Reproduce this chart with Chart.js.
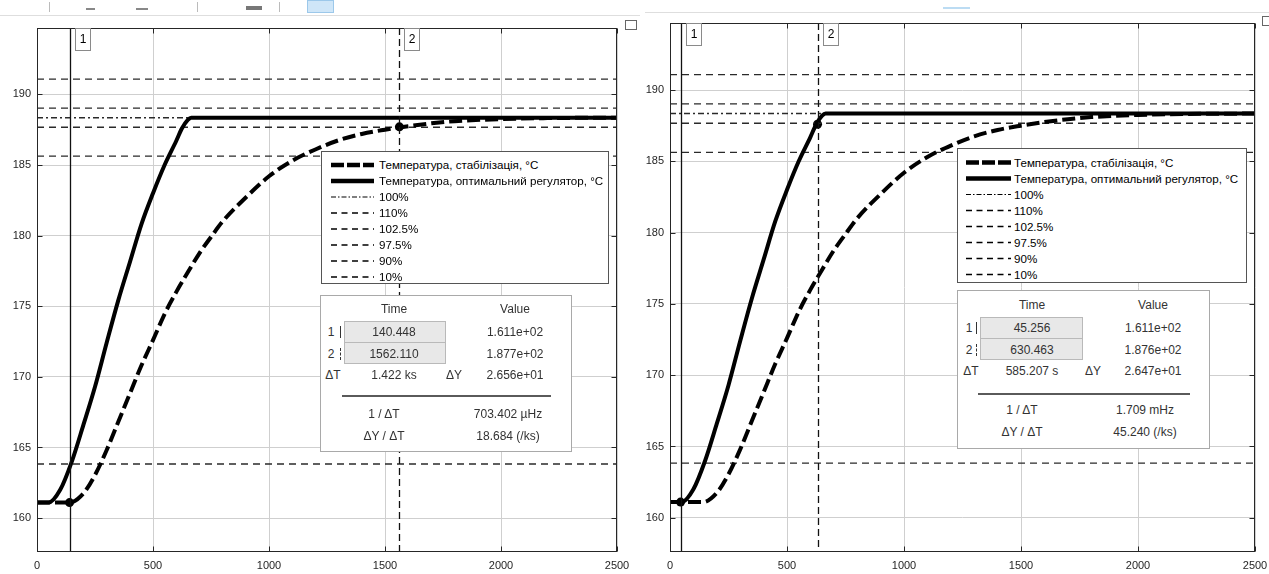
<!DOCTYPE html>
<html><head><meta charset="utf-8">
<script src="https://cdn.jsdelivr.net/npm/chart.js@4.4.1/dist/chart.umd.min.js"></script>
<style>
html,body{margin:0;padding:0;background:#fff;}
body{width:1269px;height:574px;overflow:hidden;position:relative;font-family:'Liberation Sans',Arial,sans-serif;}
.pane{position:absolute;top:0;}
.legend{position:absolute;background:#fff;border:1px solid #555;box-sizing:border-box;}
.legend .row{position:absolute;height:16px;font-size:11.6px;line-height:16px;color:#000;white-space:nowrap;}
.legend svg{position:absolute;left:0;top:0;}
.meas{position:absolute;background:#fff;border:1px solid #a9a9a9;box-sizing:border-box;color:#333;font-size:12px;}
.meas .t{position:absolute;transform:translate(-50%,-50%);white-space:nowrap;line-height:14px;}
.meas .fld{position:absolute;background:#e8e8e8;border:1px solid #b9b9b9;box-sizing:border-box;}
.meas .sep{position:absolute;height:0;border-top:2px solid #5a5a5a;}
.deco{position:absolute;}
</style></head>
<body>
<div class="deco" style="left:0;top:15px;width:640px;height:1px;background:#dedede"></div>
<div class="deco" style="left:645px;top:12px;width:624px;height:1px;background:#dedede"></div>
<div class="deco" style="left:307px;top:0;width:27px;height:13px;background:#cfe6f8;border:1px solid #9cc8ea;box-sizing:border-box"></div>
<div class="deco" style="left:246px;top:6px;width:16px;height:4px;background:#777"></div>
<div class="deco" style="left:49px;top:2px;width:1px;height:10px;background:#bbb"></div>
<div class="deco" style="left:197px;top:2px;width:1px;height:10px;background:#bbb"></div>
<div class="deco" style="left:279px;top:2px;width:1px;height:10px;background:#bbb"></div>
<div class="deco" style="left:86px;top:8px;width:9px;height:2px;background:#888"></div>
<div class="deco" style="left:136px;top:8px;width:12px;height:2px;background:#888"></div>
<div class="deco" style="left:943px;top:7px;width:27px;height:2px;background:#bcdcf3"></div>
<div class="deco" style="left:625px;top:20px;width:12px;height:10px;border:1px solid #666;box-sizing:border-box"></div>
<div class="deco" style="left:1262px;top:16px;width:12px;height:10px;border:1px solid #666;box-sizing:border-box"></div>

<div class="pane" style="left:0;width:640px;height:574px"><canvas id="c1" width="640" height="574"></canvas></div>
<div class="pane" style="left:640px;width:640px;height:574px"><canvas id="c2" width="640" height="574"></canvas></div>

<script>
// ---------------- data ----------------
const xTicks = [0, 500, 1000, 1500, 2000, 2500];
const yTicks = [160, 165, 170, 175, 180, 185, 190];
const seriesLabels = ['Температура, стабілізація, °C', 'Температура, оптимальний регулятор, °C'];
const timeStab = [0, 140, 200, 250, 300, 350, 400, 450, 500, 550, 600, 650, 700, 750, 800, 900, 1000, 1100, 1200, 1300, 1400, 1500, 1600, 1700, 1800, 2000, 2200, 2500];
const tempStab = [161.1, 161.1, 161.75, 163.05, 164.8, 166.8, 168.8, 170.8, 172.6, 174.45, 176.0, 177.4, 178.75, 179.9, 181.0, 182.7, 184.2, 185.3, 186.1, 186.75, 187.2, 187.5, 187.75, 187.95, 188.1, 188.25, 188.32, 188.35];
const timeOpt = [0, 50, 100, 150, 200, 250, 300, 350, 400, 450, 500, 550, 600, 625, 650, 665, 2500];
const tempOpt = [161.1, 161.1, 162.0, 164.0, 166.6, 169.3, 172.4, 175.4, 178.1, 180.8, 183.0, 185.0, 186.7, 187.6, 188.2, 188.35, 188.35];
const levelLabels = ['100%', '110%', '102.5%', '97.5%', '90%', '10%'];
const levelValues = [188.35, 191.08, 189.03, 187.67, 185.63, 163.83];
const cursorTimesA = [140.448, 1562.110];
const cursorValuesA = [161.1, 187.7];
const cursorTimesB = [45.256, 630.463];
const cursorValuesB = [161.1, 187.6];
const measA = {t1: '140.448', t2: '1562.110', v1: '1.611e+02', v2: '1.877e+02', dT: '1.422 ks', dY: '2.656e+01', inv: '703.402 µHz', slope: '18.684 (/ks)'};
const measB = {t1: '45.256', t2: '630.463', v1: '1.611e+02', v2: '1.876e+02', dT: '585.207 s', dY: '2.647e+01', inv: '1.709 mHz', slope: '45.240 (/ks)'};

// ---------------- helpers ----------------
const zip = (xs, ys) => xs.map((x, i) => ({x, y: ys[i]}));
const levelDash = [[6, 3, 2, 3], [7, 5], [7, 5], [7, 5], [7, 5], [7, 5]];

const framePlugin = {
  id: 'frame',
  afterDatasetsDraw(chart, args, opts) {
    const {ctx, chartArea: a, scales: {x}} = chart;
    ctx.save();
    ctx.beginPath(); ctx.rect(a.left, a.top, a.right - a.left, a.bottom - a.top); ctx.clip();
    opts.cursors.forEach((t, i) => {
      const px = Math.round(x.getPixelForValue(t)) + 0.5;
      ctx.setLineDash(i === 0 ? [] : [7, 4]);
      ctx.lineWidth = 1.3; ctx.strokeStyle = '#111';
      ctx.beginPath(); ctx.moveTo(px, a.top); ctx.lineTo(px, a.bottom); ctx.stroke();
    });
    ctx.restore();
  },
  afterDraw(chart, args, opts) {
    const {ctx, chartArea: a, scales: {x, y}} = chart;
    ctx.save();
    ctx.setLineDash([]);
    ctx.strokeStyle = '#262626'; ctx.lineWidth = 1;
    const L = Math.round(a.left) + 0.5, R = Math.round(a.right) - 0.5, T = Math.round(a.top) + 0.5, B = Math.round(a.bottom) - 0.5;
    ctx.strokeRect(L, T, R - L, B - T);
    ctx.beginPath();
    xTicks.forEach(v => { const p = Math.round(x.getPixelForValue(v)) + 0.5; ctx.moveTo(p, B); ctx.lineTo(p, B - 5); ctx.moveTo(p, T); ctx.lineTo(p, T + 5); });
    yTicks.forEach(v => { const p = Math.round(y.getPixelForValue(v)) + 0.5; ctx.moveTo(L, p); ctx.lineTo(L + 5, p); ctx.moveTo(R, p); ctx.lineTo(R - 5, p); });
    ctx.stroke();
    opts.cursors.forEach((t, i) => {
      const px = Math.round(x.getPixelForValue(t)) + 5.5;
      const top = Math.round(a.top) + 0.5;
      ctx.fillStyle = '#fff'; ctx.fillRect(px, top, 15, 22);
      ctx.strokeStyle = '#8a8a8a'; ctx.strokeRect(px, top, 15, 22);
      ctx.fillStyle = '#000'; ctx.font = '12px "Liberation Sans", Arial, sans-serif';
      ctx.textAlign = 'center'; ctx.textBaseline = 'middle';
      ctx.fillText(String(i + 1), px + 7.5, top + 11.5);
    });
    ctx.restore();
  }
};

function makeChart(id, chartLeft, chartRight, chartTop, cursorTimes, cursorValues) {
  const datasets = [
    {label: seriesLabels[0], data: zip(timeStab, tempStab), borderColor: '#000', borderWidth: 4, borderDash: [13, 5], borderCapStyle: 'butt', cubicInterpolationMode: 'monotone', showLine: true, pointRadius: 0},
    {label: seriesLabels[1], data: zip(timeOpt, tempOpt), borderColor: '#000', borderWidth: 4, cubicInterpolationMode: 'monotone', showLine: true, pointRadius: 0}
  ];
  levelLabels.forEach((lab, i) => {
    datasets.push({label: lab, data: [{x: xTicks[0], y: levelValues[i]}, {x: xTicks[xTicks.length - 1], y: levelValues[i]}], borderColor: '#2a2a2a', borderWidth: 1.4, borderDash: levelDash[i], showLine: true, pointRadius: 0});
  });
  datasets.push({label: 'cursors', data: zip(cursorTimes, cursorValues), showLine: false, pointRadius: 4.5, pointBackgroundColor: '#000', pointBorderColor: '#000', pointBorderWidth: 0});
  const W = 640;
  const fnt = {family: '"Liberation Sans", Arial, sans-serif', size: 11};
  return new Chart(document.getElementById(id), {
    type: 'scatter',
    data: {datasets},
    options: {
      responsive: false, animation: false, devicePixelRatio: 1,
      layout: {padding: {left: 0, top: chartTop, right: W - chartRight, bottom: 0}},
      plugins: {legend: {display: false}, tooltip: {enabled: false}, frame: {cursors: cursorTimes}},
      scales: {
        x: {type: 'linear', min: 0, max: 2500,
            afterFit: s => { s.height = 574 - 552; },
            afterBuildTicks: s => { s.ticks = xTicks.map(v => ({value: v})); },
            ticks: {padding: 7, color: '#262626', font: fnt, maxRotation: 0, autoSkip: false, callback: v => String(v)},
            grid: {color: '#cfcfcf', drawTicks: false, lineWidth: 1}, border: {display: false}},
        y: {type: 'linear', min: 157.6, max: 194.7,
            afterFit: s => { s.width = chartLeft; },
            afterBuildTicks: s => { s.ticks = yTicks.map(v => ({value: v})); },
            ticks: {padding: 6, color: '#262626', font: fnt, callback: v => String(v)},
            grid: {color: '#cfcfcf', drawTicks: false, lineWidth: 1}, border: {display: false}}
      }
    },
    plugins: [framePlugin]
  });
}

makeChart('c1', 37, 617, 28, cursorTimesA, cursorValuesA);
makeChart('c2', 30, 615, 23, cursorTimesB, cursorValuesB);

// ---------------- HTML legend ----------------
function buildLegend(left, top, w, h, sx0, sx1, tx, r0) {
  const box = document.createElement('div');
  box.className = 'legend';
  Object.assign(box.style, {left: left + 'px', top: top + 'px', width: w + 'px', height: h + 'px'});
  const labels = seriesLabels.concat(levelLabels);
  let svg = '<svg width="' + w + '" height="' + h + '">';
  labels.forEach((lab, i) => {
    const cy = r0 + 16 * i;
    let sw = 1.3, dash = '6 4.5';
    if (i === 0) { sw = 4.5; dash = '13 3'; }
    else if (i === 1) { sw = 4.5; dash = ''; }
    else if (i === 2) { sw = 1.2; dash = '5 2 1.5 2'; }
    svg += '<line x1="' + sx0 + '" y1="' + cy + '" x2="' + sx1 + '" y2="' + cy + '" stroke="#000" stroke-width="' + sw + '"' + (dash ? ' stroke-dasharray="' + dash + '"' : '') + '/>';
    const row = document.createElement('div');
    row.className = 'row';
    row.style.left = tx + 'px'; row.style.top = (cy - 8) + 'px';
    row.textContent = lab;
    box.appendChild(row);
  });
  svg += '</svg>';
  box.insertAdjacentHTML('afterbegin', svg);
  document.body.appendChild(box);
}
buildLegend(321, 151, 288, 133, 9, 52, 57, 13);
buildLegend(957, 148, 290, 135, 8, 53, 56, 13.5);

// ---------------- measurement panels ----------------
function buildMeas(left, top, w, h, m, c) {
  const box = document.createElement('div');
  box.className = 'meas';
  Object.assign(box.style, {left: left + 'px', top: top + 'px', width: w + 'px', height: h + 'px'});
  const add = (txt, x, y) => { const d = document.createElement('div'); d.className = 't'; d.style.left = x + 'px'; d.style.top = y + 'px'; d.textContent = txt; box.appendChild(d); };
  const fld = (x, y, fw, fh) => { const d = document.createElement('div'); d.className = 'fld'; Object.assign(d.style, {left: x + 'px', top: y + 'px', width: fw + 'px', height: fh + 'px'}); box.appendChild(d); };
  fld(c.fx, c.fy, c.fw, c.fh); fld(c.fx, c.fy + c.fh - 1, c.fw, c.fh);
  add('Time', c.cT, c.yH); add('Value', c.cV, c.yH);
  add('1', c.cN, c.y1); add('2', c.cN, c.y2);
  add(m.t1, c.cT, c.y1); add(m.t2, c.cT, c.y2);
  add(m.v1, c.cV, c.y1); add(m.v2, c.cV, c.y2);
  add('ΔT', c.cN + 2, c.y3); add(m.dT, c.cT, c.y3); add('ΔY', c.cDY, c.y3); add(m.dY, c.cV, c.y3);
  const s = document.createElement('div'); s.className = 'sep';
  Object.assign(s.style, {left: c.sx0 + 'px', top: c.sy + 'px', width: (c.sx1 - c.sx0) + 'px'}); box.appendChild(s);
  add('1 / ΔT', c.cL, c.y4); add(m.inv, c.cR, c.y4);
  add('ΔY / ΔT', c.cL, c.y5); add(m.slope, c.cR, c.y5);
  const g1 = document.createElement('div'); Object.assign(g1.style, {position: 'absolute', left: (c.fx - 4) + 'px', top: (c.y1 - 6) + 'px', width: '1px', height: '12px', background: '#333'}); box.appendChild(g1);
  const g2 = document.createElement('div'); Object.assign(g2.style, {position: 'absolute', left: (c.fx - 4) + 'px', top: (c.y2 - 6) + 'px', width: '0', height: '12px', borderLeft: '1px dashed #333'}); box.appendChild(g2);
  document.body.appendChild(box);
}
buildMeas(320, 295, 252, 157, measA, {fx: 23, fy: 25, fw: 102, fh: 22, cT: 73, cV: 194, cN: 10, cDY: 133, yH: 13, y1: 35.5, y2: 57.5, y3: 79, sx0: 21, sx1: 230, sy: 99, cL: 63, cR: 187, y4: 118, y5: 140});
buildMeas(957, 290, 253, 159, measB, {fx: 22, fy: 25.5, fw: 103, fh: 22, cT: 74, cV: 195, cN: 11, cDY: 135, yH: 13.5, y1: 37, y2: 58.5, y3: 80, sx0: 20, sx1: 232, sy: 102, cL: 64, cR: 187, y4: 119, y5: 141});
</script>
</body></html>
